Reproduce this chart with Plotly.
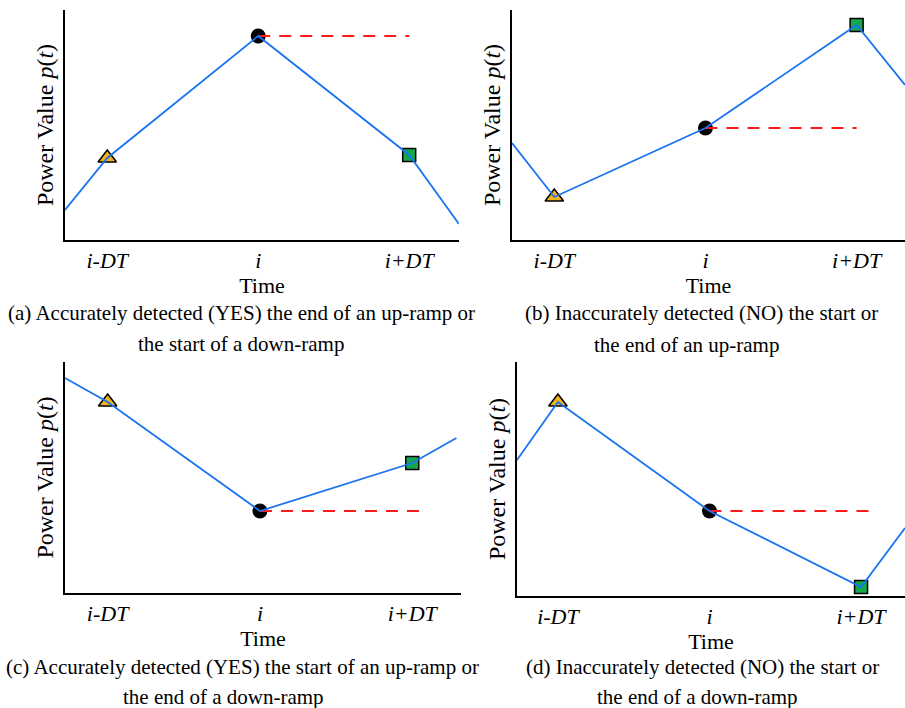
import plotly.graph_objects as go

# ---- data (time positions: 1 = i-DT, 2 = i, 3 = i+DT) ----
tick_vals = [1, 2, 3]
tick_text = ["<i>i-DT</i>", "<i>i</i>", "<i>i+DT</i>"]

# panel (a)
a_x = [0.72, 1, 2, 3, 3.33]
a_y = [30, 82, 204, 85, 16]
# panel (b)
b_x = [0.72, 1, 2, 3, 3.32]
b_y = [97, 43, 112, 215, 155]
# panel (c)
c_x = [0.72, 1, 2, 3, 3.29]
c_y = [215, 191, 82, 130, 155]
# panel (d)
d_x = [0.73, 1, 2, 3, 3.29]
d_y = [136, 194, 85, 9, 68]

dash_end = [3.0, 3.0, 3.05, 3.06]

captions = [
    ["(a) Accurately detected (YES) the end of an up-ramp or", "the start of a down-ramp"],
    ["(b) Inaccurately detected (NO) the start or", "the end of an up-ramp"],
    ["(c) Accurately detected (YES) the start of an up-ramp or", "the end of a down-ramp"],
    ["(d) Inaccurately detected (NO) the start or", "the end of a down-ramp"],
]

W, H = 905, 708
FONT = "Liberation Serif, Times New Roman, serif"
BLUE = "#1a73f0"
RED = "#ff1a1a"
ORANGE = "#f2b31f"
GREEN = "#14a84c"

panels = [
    dict(x=a_x, y=a_y, xdom=(65, 459), ydom=(10, 240), xr=(0.72, 3.33), yr=(0, 230),
         cap=[(241, 313), (241, 344)]),
    dict(x=b_x, y=b_y, xdom=(512, 905), ydom=(10, 240), xr=(0.72, 3.32), yr=(0, 230),
         cap=[(701, 313), (686, 345)]),
    dict(x=c_x, y=c_y, xdom=(65, 461), ydom=(362, 593), xr=(0.72, 3.32), yr=(0, 231),
         cap=[(242, 667), (223, 697)]),
    dict(x=d_x, y=d_y, xdom=(517, 905), ydom=(362, 596), xr=(0.73, 3.29), yr=(0, 234),
         cap=[(702, 667), (697, 697)]),
]

fig = go.Figure()
layout = dict(width=W, height=H, margin=dict(l=0, r=0, t=0, b=0),
              paper_bgcolor="white", plot_bgcolor="white", showlegend=False,
              font=dict(family=FONT, color="black"))
annotations = []

for k, p in enumerate(panels):
    n = "" if k == 0 else str(k + 1)
    xa, ya = "x" + n, "y" + n
    x, y = p["x"], p["y"]
    # markers (drawn first, lines on top)
    fig.add_trace(go.Scatter(x=[x[1]], y=[y[1]], mode="markers", xaxis=xa, yaxis=ya,
                             marker=dict(symbol="triangle-up", size=16, color=ORANGE,
                                         line=dict(color="black", width=1.5)),
                             cliponaxis=False))
    fig.add_trace(go.Scatter(x=[x[3]], y=[y[3]], mode="markers", xaxis=xa, yaxis=ya,
                             marker=dict(symbol="square", size=13, color=GREEN,
                                         line=dict(color="black", width=1.5)),
                             cliponaxis=False))
    fig.add_trace(go.Scatter(x=[x[2]], y=[y[2]], mode="markers", xaxis=xa, yaxis=ya,
                             marker=dict(symbol="circle", size=15, color="black"),
                             cliponaxis=False))
    # dashed reference line
    fig.add_trace(go.Scatter(x=[x[2], dash_end[k]], y=[y[2], y[2]], mode="lines",
                             xaxis=xa, yaxis=ya,
                             line=dict(color=RED, width=1.8, dash="12px,9px")))
    # power curve
    fig.add_trace(go.Scatter(x=x, y=y, mode="lines", xaxis=xa, yaxis=ya,
                             line=dict(color=BLUE, width=1.8)))

    xd = [p["xdom"][0] / W, p["xdom"][1] / W]
    yd = [1 - p["ydom"][1] / H, 1 - p["ydom"][0] / H]
    layout["xaxis" + n] = dict(domain=xd, range=list(p["xr"]), anchor=ya,
                               showgrid=False, zeroline=False, showline=True,
                               linecolor="black", linewidth=2, ticks="",
                               tickvals=tick_vals, ticktext=tick_text,
                               tickfont=dict(family=FONT, size=22),
                               title=dict(text="Time", font=dict(family=FONT, size=22),
                                          standoff=0))
    layout["yaxis" + n] = dict(domain=yd, range=list(p["yr"]), anchor=xa,
                               showgrid=False, zeroline=False, showline=True,
                               linecolor="black", linewidth=2, ticks="",
                               showticklabels=False,
                               title=dict(text="Power Value <i>p</i>(<i>t</i>)",
                                          font=dict(family=FONT, size=24),
                                          standoff=3))
    for (cx, cy), txt in zip(p["cap"], captions[k]):
        annotations.append(dict(text=txt, xref="paper", yref="paper",
                                x=cx / W, y=1 - cy / H, xanchor="center", yanchor="middle",
                                showarrow=False, font=dict(family=FONT, size=21)))

layout["annotations"] = annotations
fig.update_layout(**layout)
fig.write_html("out.html")
